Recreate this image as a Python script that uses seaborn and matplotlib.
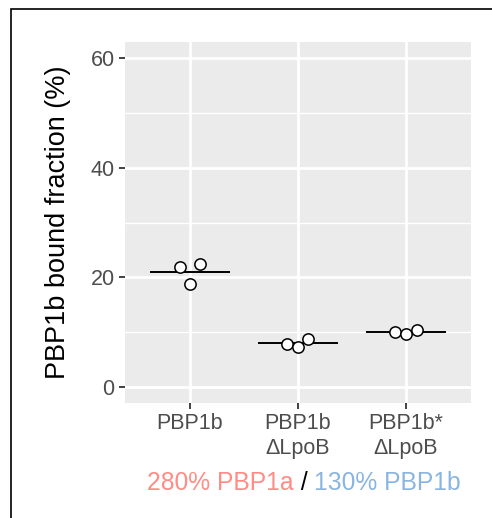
import matplotlib
matplotlib.use("Agg")
import matplotlib.pyplot as plt
import seaborn as sns
import pandas as pd
import numpy as np
from matplotlib.patches import Rectangle
from matplotlib.ticker import MultipleLocator

# ---- data ----
categories = ["PBP1b", "PBP1b\nΔLpoB", "PBP1b*\nΔLpoB"]
group = ["PBP1b", "PBP1b", "PBP1b",
         "PBP1b\nΔLpoB", "PBP1b\nΔLpoB", "PBP1b\nΔLpoB",
         "PBP1b*\nΔLpoB", "PBP1b*\nΔLpoB", "PBP1b*\nΔLpoB"]
bound_fraction = [21.9, 22.4, 18.8,
                  7.8, 7.3, 8.65,
                  10.05, 9.6, 10.3]
jitter = [-0.093, 0.093, 0.0,
          -0.098, 0.0, 0.088,
          -0.105, 0.0, 0.1]
y_ticks = [0, 20, 40, 60]

df = pd.DataFrame({"group": group, "value": bound_fraction, "jitter": jitter})
df["xpos"] = df["group"].map({c: i for i, c in enumerate(categories)}) + df["jitter"]
means = df.groupby("group", sort=False)["value"].mean().reindex(categories)

# ---- figure ----
sns.set_theme(style="darkgrid")
plt.rcParams["font.family"] = ["Liberation Sans", "DejaVu Sans"]
fig = plt.figure(figsize=(4.92, 5.18), dpi=100)
ax = fig.add_axes([125/492, 1 - 403/518, (471 - 125)/492, (403 - 42)/518])
ax.set_facecolor("#EBEBEB")

# mean lines
for i, c in enumerate(categories):
    ax.hlines(means[c], i - 0.37, i + 0.37, color="black", lw=1.4, zorder=3)

sns.scatterplot(data=df, x="xpos", y="value", ax=ax, color="white",
                edgecolor="black", linewidth=1.1, s=66, zorder=4, legend=False)

ax.set_xlim(-0.6, 2.6)
ax.set_ylim(-3, 63)
ax.set_xticks(range(len(categories)))
ax.set_xticklabels(categories)
ax.set_yticks(y_ticks)
ax.yaxis.set_minor_locator(MultipleLocator(10))
ax.grid(which="major", color="white", lw=2.0)
ax.grid(which="minor", axis="y", color="white", lw=1.0)
ax.grid(which="minor", axis="x", visible=False)
for s in ax.spines.values():
    s.set_visible(False)
ax.tick_params(axis="both", which="major", length=4.5, width=1.3, color="#333333",
               labelcolor="#4D4D4D", labelsize=15.5, pad=3,
               bottom=True, left=True)
ax.tick_params(axis="both", which="minor", length=0)
ax.set_xlabel("")
ax.set_ylabel("PBP1b bound fraction (%)", fontsize=19.5, color="black", labelpad=14)

# colored x title
fig.canvas.draw()
renderer = fig.canvas.get_renderer()
parts = [("280% PBP1a", "#FF8C85"), (" / ", "black"), ("130% PBP1b", "#8AB5E0")]
ypix = 518 - 483
fs = 17.7
texts = []
widths = []
for s, col in parts:
    t = fig.text(0, ypix / 518, s, color=col, fontsize=fs, va="center", ha="left")
    texts.append(t)
    widths.append(t.get_window_extent(renderer).width)
total = sum(widths)
center = 304
x0 = center - total / 2
for t, w in zip(texts, widths):
    t.set_x(x0 / 492)
    x0 += w

# outer border (left and top visible)
fig.add_artist(Rectangle((11/492, -0.2), 1.2, 1.2 - 9/518, transform=fig.transFigure,
                         fill=False, edgecolor="black", lw=1.2, clip_on=False))

fig.savefig("out.png", dpi=100)
